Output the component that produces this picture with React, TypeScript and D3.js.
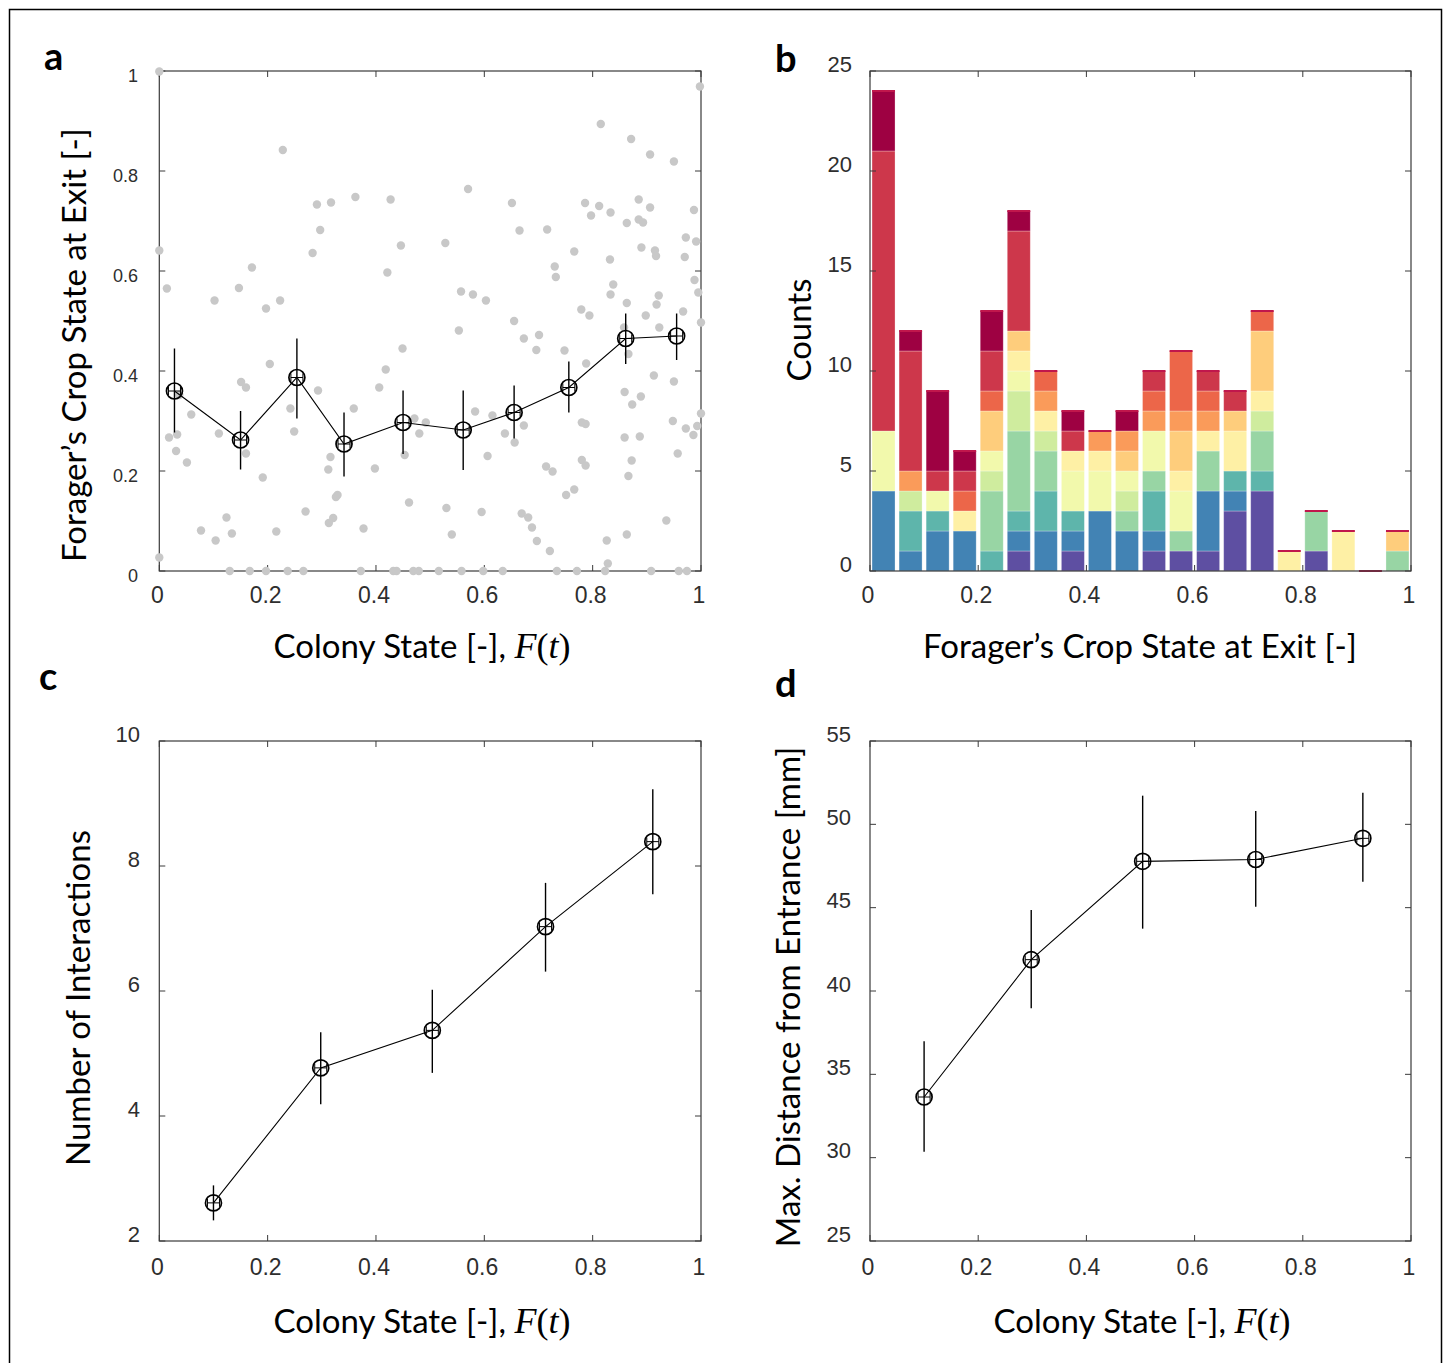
import React from 'react';
import * as d3 from 'd3';

// panel a: individual foragers (grey dots)
const scatterX = [
  0.000, 0.228, 0.291, 0.317, 0.362, 0.427, 0.297, 0.000, 0.283, 0.446, 0.171, 0.421, 0.014, 0.147, 0.102, 0.223, 0.197,
  0.998, 0.815, 0.871, 0.906, 0.950, 0.570, 0.651, 0.786, 0.812, 0.885, 0.906, 0.987, 0.797, 0.833, 0.863, 0.885, 0.893,
  0.665, 0.716, 0.528, 0.972, 0.991, 0.766, 0.890, 0.915, 0.917, 0.832, 0.970, 0.730, 0.732, 0.988, 0.557, 0.579, 0.603,
  0.838, 0.833, 0.922, 0.995, 0.863, 0.918, 0.779, 0.794, 0.967, 0.898, 0.655, 1.000,
  0.449, 0.418, 0.204, 0.151, 0.160, 0.406, 0.293, 0.037, 0.359, 0.242, 0.059, 0.471, 0.492, 0.249, 0.110, 0.033, 0.018,
  0.480, 0.160, 0.031, 0.453, 0.316, 0.051, 0.312, 0.398, 0.191, 0.329, 0.326, 0.461, 0.270, 0.124, 0.321, 0.313, 0.377,
  0.077, 0.216, 0.134, 0.104, 0.000,
  0.130, 0.167, 0.197, 0.237, 0.266, 0.372, 0.432, 0.438, 0.469, 0.479,
  0.553, 0.923, 0.673, 0.701, 0.696, 0.748, 0.858, 0.866, 0.788, 0.913, 0.950, 0.859, 0.889, 0.873, 0.583, 0.615, 0.673,
  0.638, 0.656, 0.780, 0.787, 0.948, 1.000, 0.993, 0.972, 0.986, 0.859, 0.887, 0.957, 0.606, 0.872, 0.780, 0.787, 0.866,
  0.714, 0.726, 0.766, 0.751, 0.530, 0.595, 0.669, 0.681, 0.688, 0.936, 0.540, 0.863, 0.697, 0.826, 0.721, 0.828,
  0.516, 0.558, 0.598, 0.634, 0.734, 0.771, 0.823, 0.908, 0.959, 0.974,
];
const scatterY = [
  0.999, 0.842, 0.733, 0.737, 0.748, 0.743, 0.682, 0.641, 0.636, 0.651, 0.607, 0.597, 0.565, 0.566, 0.541, 0.541, 0.525,
  0.969, 0.894, 0.864, 0.833, 0.819, 0.764, 0.736, 0.736, 0.730, 0.743, 0.727, 0.722, 0.711, 0.717, 0.696, 0.703, 0.697,
  0.681, 0.683, 0.656, 0.667, 0.659, 0.639, 0.647, 0.641, 0.630, 0.623, 0.628, 0.609, 0.588, 0.582, 0.559, 0.553, 0.541,
  0.573, 0.553, 0.551, 0.557, 0.536, 0.533, 0.523, 0.511, 0.519, 0.511, 0.500, 0.497,
  0.445, 0.403, 0.414, 0.378, 0.367, 0.367, 0.361, 0.352, 0.325, 0.325, 0.313, 0.305, 0.297, 0.279, 0.275, 0.273, 0.267,
  0.275, 0.235, 0.240, 0.232, 0.228, 0.217, 0.203, 0.205, 0.187, 0.152, 0.148, 0.137, 0.119, 0.107, 0.106, 0.096, 0.085,
  0.081, 0.079, 0.075, 0.061, 0.027,
  0, 0, 0, 0, 0, 0, 0, 0, 0, 0,
  0.481, 0.487, 0.465, 0.472, 0.442, 0.441, 0.487, 0.434, 0.415, 0.391, 0.379, 0.358, 0.349, 0.333, 0.319, 0.311, 0.291,
  0.275, 0.257, 0.297, 0.294, 0.300, 0.315, 0.290, 0.285, 0.272, 0.267, 0.269, 0.235, 0.230, 0.221, 0.222, 0.211, 0.190,
  0.209, 0.199, 0.163, 0.152, 0.126, 0.118, 0.115, 0.107, 0.087, 0.101, 0.073, 0.073, 0.060, 0.061, 0.040, 0.015,
  0, 0, 0, 0, 0, 0, 0, 0, 0, 0,
];

// panel a: binned means with standard errors
const meanAX = [0.028, 0.150, 0.254, 0.341, 0.450, 0.561, 0.655, 0.756, 0.861, 0.955];
const meanAY = [0.360, 0.262, 0.387, 0.254, 0.297, 0.282, 0.317, 0.367, 0.465, 0.470];
const lowAY = [0.277, 0.203, 0.305, 0.189, 0.234, 0.202, 0.265, 0.317, 0.414, 0.422];
const highAY = [0.445, 0.320, 0.465, 0.317, 0.361, 0.361, 0.371, 0.419, 0.515, 0.515];

// panel b: stacked histogram, 20 bins of width 0.05, 12 groups (bottom -> top)
const binStarts = d3.range(20).map(i => i * 0.05);
const groupCounts = [
  [0, 0, 0, 0, 0, 1, 0, 1, 0, 0, 1, 1, 1, 3, 4, 0, 1, 0, 0, 0],
  [4, 1, 2, 2, 0, 1, 2, 1, 3, 2, 1, 0, 3, 1, 0, 0, 0, 0, 0, 0],
  [0, 2, 1, 0, 1, 1, 2, 1, 0, 0, 2, 0, 0, 1, 1, 0, 0, 0, 0, 0],
  [0, 0, 0, 0, 3, 4, 2, 0, 0, 1, 1, 1, 2, 0, 2, 0, 2, 0, 0, 1],
  [0, 1, 0, 0, 1, 2, 1, 0, 0, 1, 0, 0, 0, 0, 1, 0, 0, 0, 0, 0],
  [3, 0, 1, 0, 1, 1, 0, 2, 2, 1, 2, 2, 0, 0, 0, 0, 0, 0, 0, 0],
  [0, 0, 0, 1, 0, 1, 1, 1, 1, 0, 0, 1, 1, 2, 1, 1, 0, 2, 0, 0],
  [0, 0, 0, 0, 2, 1, 0, 0, 0, 1, 0, 2, 0, 1, 3, 0, 0, 0, 0, 1],
  [0, 1, 0, 0, 0, 0, 1, 0, 1, 1, 1, 1, 1, 0, 0, 0, 0, 0, 0, 0],
  [0, 0, 0, 1, 1, 0, 1, 0, 0, 0, 1, 3, 1, 0, 1, 0, 0, 0, 0, 0],
  [14, 6, 1, 1, 2, 5, 0, 1, 0, 0, 1, 0, 1, 1, 0, 0, 0, 0, 0, 0],
  [3, 1, 4, 1, 2, 1, 0, 1, 0, 1, 0, 0, 0, 0, 0, 0, 0, 0, 0, 0],
];

// panel c
const meanCX = [0.100, 0.298, 0.504, 0.713, 0.911];
const meanCY = [2.61, 4.77, 5.37, 7.03, 8.39];
const lowCY = [2.33, 4.19, 4.69, 6.31, 7.55];
const highCY = [2.89, 5.34, 6.02, 7.73, 9.23];

// panel d
const meanDX = [0.100, 0.298, 0.504, 0.713, 0.911];
const meanDY = [33.64, 41.88, 47.78, 47.89, 49.16];
const lowDY = [30.36, 38.97, 43.74, 45.05, 46.56];
const highDY = [36.98, 44.86, 51.72, 50.80, 51.90];

const xTicks = [0, 0.2, 0.4, 0.6, 0.8, 1];
const yTicksA = [0, 0.2, 0.4, 0.6, 0.8, 1];
const yTicksB = [0, 5, 10, 15, 20, 25];
const yTicksC = [2, 4, 6, 8, 10];
const yTicksD = [25, 30, 35, 40, 45, 50, 55];

const SANS = 'Lato, "Open Sans", sans-serif';
const TICKFONT = '"Liberation Sans", Arial, sans-serif';
const MATH = '"Liberation Serif", "DejaVu Serif", serif';
const AXIS = '#3a3a3a';
const TICK_TXT = '#2e2e2e';

type Lin = d3.ScaleLinear<number, number>;

function Frame({ x, y, yTicks, yFont, yDy, xFont, xLabelY, yLabelX }: {
  x: Lin; y: Lin; yTicks: number[]; yFont: number; yDy: number; xFont: number; xLabelY: number; yLabelX: number;
}) {
  const [x0, x1] = x.range();
  const [y0, y1] = y.range();
  const t = 6;
  return (
    <g>
      <rect x={x0} y={y1} width={x1 - x0} height={y0 - y1} fill="none" stroke={AXIS} strokeWidth={1.2} />
      {xTicks.map(v => (
        <g key={'x' + v}>
          <line x1={x(v)} x2={x(v)} y1={y0} y2={y0 - t} stroke={AXIS} />
          <line x1={x(v)} x2={x(v)} y1={y1} y2={y1 + t} stroke={AXIS} />
          <text x={x(v) - 2} y={xLabelY} textAnchor="middle" fontFamily={TICKFONT} fontSize={xFont} fill={TICK_TXT}>
            {d3.format('~g')(v)}
          </text>
        </g>
      ))}
      {yTicks.map(v => (
        <g key={'y' + v}>
          <line x1={x0} x2={x0 + t} y1={y(v)} y2={y(v)} stroke={AXIS} />
          <line x1={x1} x2={x1 - t} y1={y(v)} y2={y(v)} stroke={AXIS} />
          <text x={yLabelX} y={y(v) + yDy} textAnchor="end" dominantBaseline="middle" fontFamily={TICKFONT} fontSize={yFont} fill={TICK_TXT}>
            {d3.format('~g')(v)}
          </text>
        </g>
      ))}
    </g>
  );
}

function MeanLine({ x, y, xs, ys, lo, hi }: { x: Lin; y: Lin; xs: number[]; ys: number[]; lo: number[]; hi: number[] }) {
  const pts = xs.map((v, i) => [v, ys[i]] as [number, number]);
  const line = d3.line<[number, number]>().x(d => x(d[0])).y(d => y(d[1]));
  return (
    <g>
      <path d={line(pts) || ''} fill="none" stroke="#000" strokeWidth={1.1} />
      {pts.map(([vx, vy], i) => {
        const cx = x(vx);
        const cy = y(vy);
        return (
          <g key={i} stroke="#000">
            <line x1={cx} x2={cx} y1={y(lo[i])} y2={y(hi[i])} strokeWidth={1.4} />
            <line x1={cx - 6} x2={cx + 6} y1={cy} y2={cy} strokeWidth={1} />
            <line x1={cx - 6} x2={cx - 6} y1={cy - 4} y2={cy + 4} strokeWidth={1} />
            <line x1={cx + 6} x2={cx + 6} y1={cy - 4} y2={cy + 4} strokeWidth={1} />
            <circle cx={cx} cy={cy} r={8} fill="none" strokeWidth={1.7} />
          </g>
        );
      })}
    </g>
  );
}

function ColonyLabel({ cx, y }: { cx: number; y: number }) {
  return (
    <text x={cx} y={y} textAnchor="middle" fontFamily={SANS} fontSize={33} fill="#000">
      Colony State [-],{' '}
      <tspan fontFamily={MATH} fontStyle="italic" fontSize={36}>F</tspan>
      <tspan fontFamily={MATH} fontSize={36}>(</tspan>
      <tspan fontFamily={MATH} fontStyle="italic" fontSize={36}>t</tspan>
      <tspan fontFamily={MATH} fontSize={36}>)</tspan>
    </text>
  );
}

function YLabel({ x, cy, text }: { x: number; cy: number; text: string }) {
  return (
    <text transform={`translate(${x},${cy}) rotate(-90)`} textAnchor="middle" fontFamily={SANS} fontSize={33} fill="#000">
      {text}
    </text>
  );
}

function PanelA() {
  const x = d3.scaleLinear().domain([0, 1]).range([159.3, 701]);
  const y = d3.scaleLinear().domain([0, 1]).range([571, 71]);
  return (
    <g>
      <Frame x={x} y={y} yTicks={yTicksA} yFont={18} yDy={6} xFont={23} xLabelY={603} yLabelX={138} />
      {scatterX.map((v, i) => (
        <circle key={i} cx={x(v)} cy={y(scatterY[i])} r={4.2} fill="#c8c8c8" />
      ))}
      <MeanLine x={x} y={y} xs={meanAX} ys={meanAY} lo={lowAY} hi={highAY} />
      <YLabel x={86} cy={345} text="Forager’s Crop State at Exit [-]" />
      <ColonyLabel cx={422} y={658} />
    </g>
  );
}

function PanelB() {
  const x = d3.scaleLinear().domain([0, 1]).range([870, 1411]);
  const y = d3.scaleLinear().domain([0, 25]).range([571, 71]);
  const colors = d3.quantize(d3.interpolateSpectral, 12).reverse(); // bottom purple -> top dark red
  const table = binStarts.map((b, i) => {
    const row: Record<string, number> = { bin: b };
    groupCounts.forEach((g, k) => { row['g' + k] = g[i]; });
    return row;
  });
  const keys = groupCounts.map((_, k) => 'g' + k);
  const series = d3.stack<Record<string, number>>().keys(keys)(table);
  const bw = x(0.05) - x(0);
  const barW = bw * 0.85;
  const off = (bw - barW) / 2;
  return (
    <g>
      {series.map((s, k) => (
        <g key={s.key} fill={colors[k]}>
          {s.map((d, i) => d[1] > d[0] ? (
            <rect key={i} x={x(binStarts[i]) + off} width={barW} y={y(d[1])} height={y(d[0]) - y(d[1])}
              stroke="#fff" strokeOpacity={0.35} strokeWidth={0.8} />
          ) : null)}
        </g>
      ))}
      {binStarts.map((b, i) => {
        const total = d3.sum(groupCounts, g => g[i]);
        return (
          <rect key={'top' + i} x={x(b) + off} width={barW} y={y(total) - 1} height={2} fill="#c0174c" />
        );
      })}
      <Frame x={x} y={y} yTicks={yTicksB} yFont={22} yDy={-5} xFont={23} xLabelY={603} yLabelX={852} />
      <YLabel x={811} cy={330} text="Counts" />
      <text x={1140} y={658} textAnchor="middle" fontFamily={SANS} fontSize={33} fill="#000">
        Forager’s Crop State at Exit [-]
      </text>
    </g>
  );
}

function PanelC() {
  const x = d3.scaleLinear().domain([0, 1]).range([159.3, 701]);
  const y = d3.scaleLinear().domain([2, 10]).range([1241, 741]);
  return (
    <g>
      <Frame x={x} y={y} yTicks={yTicksC} yFont={22} yDy={-5} xFont={23} xLabelY={1275} yLabelX={140} />
      <MeanLine x={x} y={y} xs={meanCX} ys={meanCY} lo={lowCY} hi={highCY} />
      <YLabel x={90} cy={998} text="Number of Interactions" />
      <ColonyLabel cx={422} y={1333} />
    </g>
  );
}

function PanelD() {
  const x = d3.scaleLinear().domain([0, 1]).range([870, 1411]);
  const y = d3.scaleLinear().domain([25, 55]).range([1241, 741]);
  return (
    <g>
      <Frame x={x} y={y} yTicks={yTicksD} yFont={22} yDy={-5} xFont={23} xLabelY={1275} yLabelX={851} />
      <MeanLine x={x} y={y} xs={meanDX} ys={meanDY} lo={lowDY} hi={highDY} />
      <YLabel x={800} cy={997} text="Max. Distance from Entrance [mm]" />
      <ColonyLabel cx={1142} y={1333} />
    </g>
  );
}

export default function App() {
  const letter = { fontFamily: SANS, fontSize: 38, fontWeight: 700 } as const;
  return (
    <div style={{ position: 'absolute', left: 0, top: 0 }}>
      <svg width={1446} height={1363} style={{ display: 'block', background: '#fff' }}>
        <rect x={9.5} y={9.5} width={1432} height={1360} fill="none" stroke="#000" strokeWidth={1.5} />
        <text x={44} y={70} {...letter}>a</text>
        <text x={775} y={72} {...letter}>b</text>
        <text x={39} y={690} {...letter}>c</text>
        <text x={775} y={697} {...letter}>d</text>
        <PanelA />
        <PanelB />
        <PanelC />
        <PanelD />
      </svg>
    </div>
  );
}
